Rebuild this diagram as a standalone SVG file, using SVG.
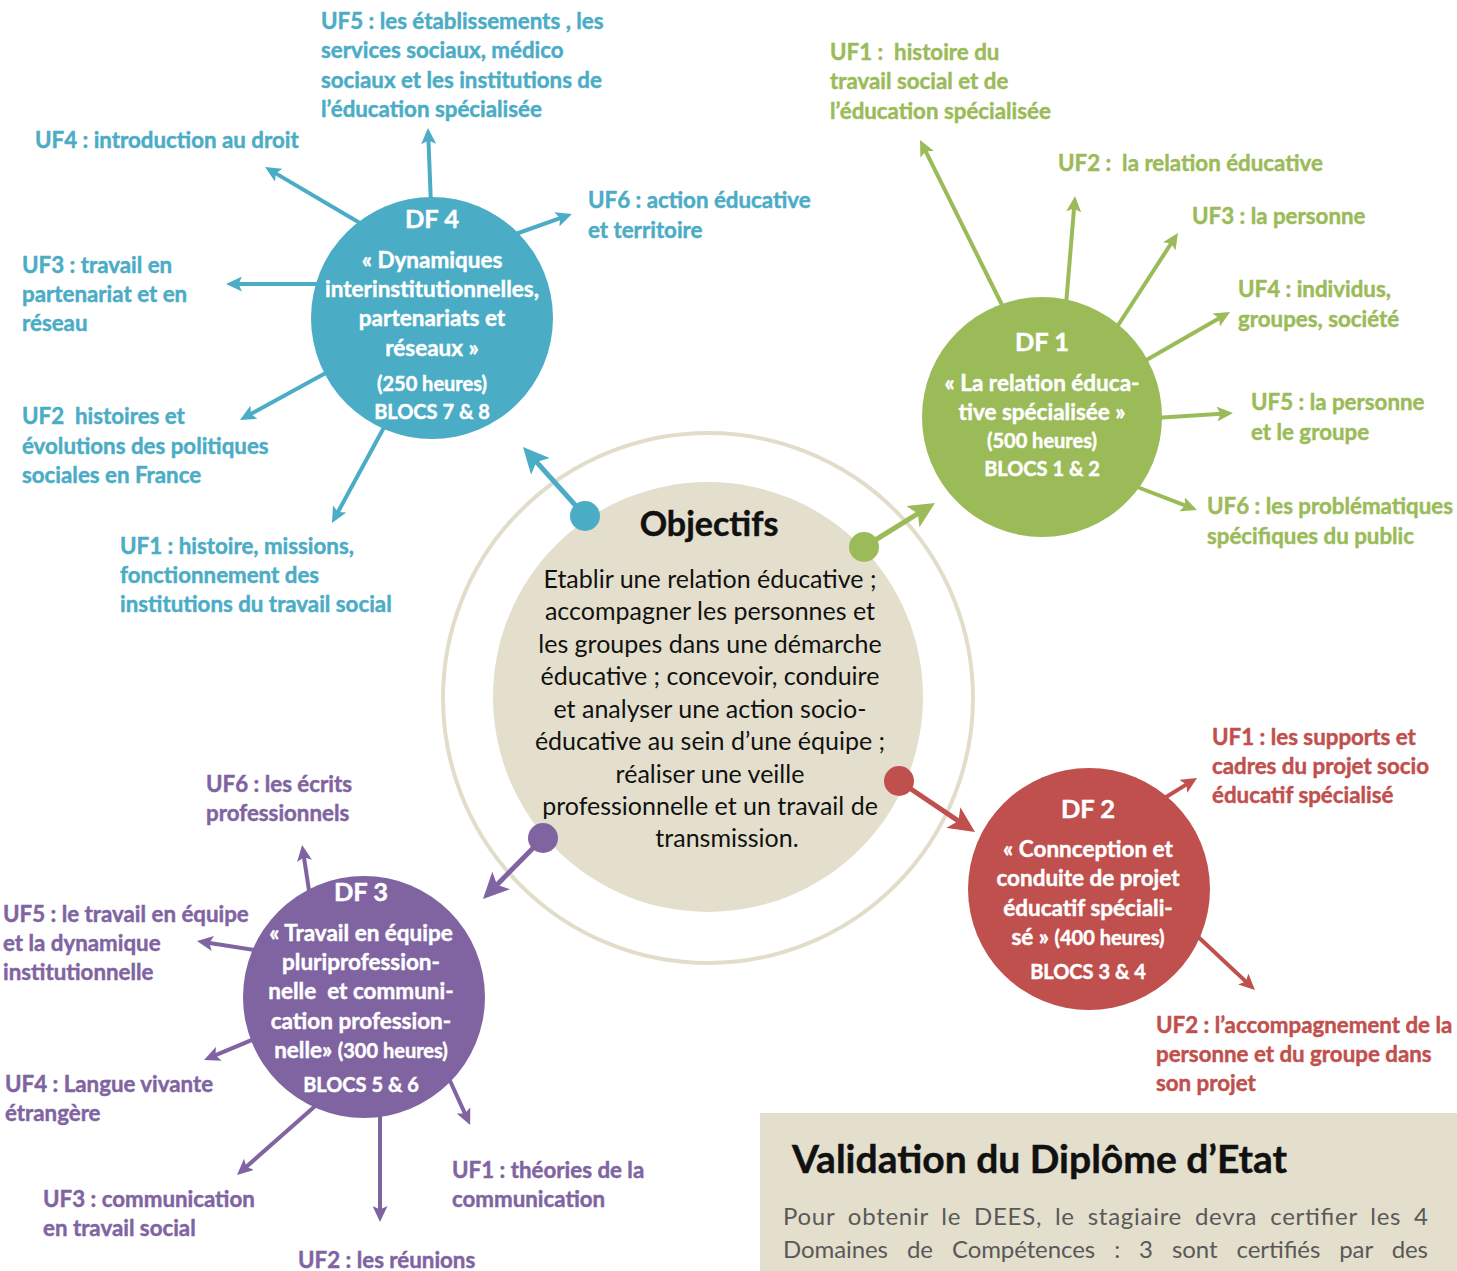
<svg xmlns="http://www.w3.org/2000/svg" width="1457" height="1271" viewBox="0 0 1457 1271">
<style>
text{font-family:Lato,"Open Sans","Liberation Sans",sans-serif;font-weight:700;white-space:pre;stroke-width:0.45px}
.b{fill:#4BACC6;stroke:#4BACC6}.g{fill:#9BBB59;stroke:#9BBB59}.r{fill:#C0504D;stroke:#C0504D}.p{fill:#8064A2;stroke:#8064A2}
.lbl{font-size:22.3px}
.w{fill:#fff;stroke:#fff;text-anchor:middle;font-size:22.5px}
.wt{font-size:25.5px}
.ws{font-size:20px}
.lb{stroke:#4BACC6}.lg{stroke:#9BBB59}.lr{stroke:#C0504D}.lp{stroke:#8064A2}
.rad line{stroke-width:4;fill:none}
.con line{stroke-width:5;fill:none}
.obj{font-size:25px;font-weight:400;fill:#111;text-anchor:middle;stroke:none}
.ttl{fill:#111;stroke:#111}
</style>
<defs>
<marker id="mb" markerUnits="userSpaceOnUse" markerWidth="16" markerHeight="15" refX="8" refY="7.5" orient="auto"><path d="M0,0 L16,7.5 L0,15 L3.5,7.5 z" fill="#4BACC6"/></marker>
<marker id="mg" markerUnits="userSpaceOnUse" markerWidth="16" markerHeight="15" refX="8" refY="7.5" orient="auto"><path d="M0,0 L16,7.5 L0,15 L3.5,7.5 z" fill="#9BBB59"/></marker>
<marker id="mr" markerUnits="userSpaceOnUse" markerWidth="16" markerHeight="15" refX="8" refY="7.5" orient="auto"><path d="M0,0 L16,7.5 L0,15 L3.5,7.5 z" fill="#C0504D"/></marker>
<marker id="mp" markerUnits="userSpaceOnUse" markerWidth="16" markerHeight="15" refX="8" refY="7.5" orient="auto"><path d="M0,0 L16,7.5 L0,15 L3.5,7.5 z" fill="#8064A2"/></marker>
<marker id="Mb" markerUnits="userSpaceOnUse" markerWidth="26" markerHeight="25" refX="13" refY="12.5" orient="auto"><path d="M0,0 L26,12.5 L0,25 L6,12.5 z" fill="#4BACC6"/></marker>
<marker id="Mg" markerUnits="userSpaceOnUse" markerWidth="26" markerHeight="25" refX="13" refY="12.5" orient="auto"><path d="M0,0 L26,12.5 L0,25 L6,12.5 z" fill="#9BBB59"/></marker>
<marker id="Mr" markerUnits="userSpaceOnUse" markerWidth="26" markerHeight="25" refX="13" refY="12.5" orient="auto"><path d="M0,0 L26,12.5 L0,25 L6,12.5 z" fill="#C0504D"/></marker>
<marker id="Mp" markerUnits="userSpaceOnUse" markerWidth="26" markerHeight="25" refX="13" refY="12.5" orient="auto"><path d="M0,0 L26,12.5 L0,25 L6,12.5 z" fill="#8064A2"/></marker>
</defs>
<rect width="1457" height="1271" fill="#fff"/>

<g id="objectifs">
<circle cx="708" cy="698" r="265" fill="none" stroke="#E2DDCA" stroke-width="4"/>
<circle cx="708" cy="697" r="215" fill="#E4DFCC"/>
<text class="ttl" x="709" y="536" text-anchor="middle" font-size="34">Objectifs</text>
<text class="obj"><tspan x="710" y="588">Etablir une relation éducative ;</tspan><tspan x="710" y="620">accompagner les personnes et</tspan><tspan x="710" y="653">les groupes dans une démarche</tspan><tspan x="710" y="685">éducative ; concevoir, conduire</tspan><tspan x="710" y="718">et analyser une action socio-</tspan><tspan x="710" y="750">éducative au sein d’une équipe ;</tspan><tspan x="710" y="783">réaliser une veille</tspan><tspan x="710" y="815">professionnelle et un travail de</tspan><tspan x="727" y="847">transmission.</tspan></text>
</g>

<g id="connectors">
<g class="rad">
<line class="lb" x1="431" y1="205" x2="428.3" y2="136" marker-end="url(#mb)"/>
<line class="lb" x1="365" y1="226" x2="271.9" y2="171.1" marker-end="url(#mb)"/>
<line class="lb" x1="510" y1="236" x2="564.4" y2="216.7" marker-end="url(#mb)"/>
<line class="lb" x1="325" y1="284" x2="234" y2="284" marker-end="url(#mb)"/>
<line class="lb" x1="333" y1="369" x2="247" y2="416.1" marker-end="url(#mb)"/>
<line class="lb" x1="388" y1="420" x2="335.8" y2="516" marker-end="url(#mb)"/>
<line class="lg" x1="1005" y1="311" x2="923.6" y2="147.2" marker-end="url(#mg)"/>
<line class="lg" x1="1066" y1="305" x2="1074.4" y2="204" marker-end="url(#mg)"/>
<line class="lg" x1="1115" y1="330" x2="1173.6" y2="239.7" marker-end="url(#mg)"/>
<line class="lg" x1="1143" y1="362" x2="1223.1" y2="316" marker-end="url(#mg)"/>
<line class="lg" x1="1155" y1="418" x2="1225" y2="413.5" marker-end="url(#mg)"/>
<line class="lg" x1="1132" y1="485" x2="1189.5" y2="507.1" marker-end="url(#mg)"/>
<line class="lr" x1="1158" y1="802" x2="1190.2" y2="782.1" marker-end="url(#mr)"/>
<line class="lr" x1="1193" y1="932" x2="1249.1" y2="984.6" marker-end="url(#mr)"/>
<line class="lp" x1="310" y1="897" x2="303.3" y2="852.9" marker-end="url(#mp)"/>
<line class="lp" x1="261" y1="951" x2="204.9" y2="942.3" marker-end="url(#mp)"/>
<line class="lp" x1="259" y1="1037" x2="211.4" y2="1056.9" marker-end="url(#mp)"/>
<line class="lp" x1="322" y1="1100" x2="243" y2="1169.7" marker-end="url(#mp)"/>
<line class="lp" x1="380" y1="1108" x2="380" y2="1214" marker-end="url(#mp)"/>
<line class="lp" x1="446" y1="1072" x2="466.8" y2="1117.7" marker-end="url(#mp)"/>
</g>
<g class="con">
<line class="lb" x1="585" y1="516" x2="531.7" y2="456.7" marker-end="url(#Mb)"/>
<line class="lg" x1="864" y1="547" x2="923.9" y2="509.9" marker-end="url(#Mg)"/>
<line class="lr" x1="899" y1="781" x2="964.2" y2="824.8" marker-end="url(#Mr)"/>
<line class="lp" x1="543" y1="838" x2="492.1" y2="889.7" marker-end="url(#Mp)"/>
</g>
<circle cx="585" cy="516" r="15" fill="#4BACC6"/>
<circle cx="864" cy="547" r="15" fill="#9BBB59"/>
<circle cx="899" cy="781" r="15" fill="#C0504D"/>
<circle cx="543" cy="838" r="15" fill="#8064A2"/>
</g>

<g id="df4">
<circle cx="432" cy="318" r="121" fill="#4BACC6"/>
<text class="w"><tspan class="wt" x="432" y="228">DF 4</tspan><tspan x="432" y="268">« Dynamiques</tspan><tspan x="432" y="297">interinstitutionnelles,</tspan><tspan x="432" y="326">partenariats et</tspan><tspan x="432" y="356">réseaux »</tspan><tspan class="ws" x="432" y="391">(250 heures)</tspan><tspan class="ws" x="432" y="419">BLOCS 7 &amp; 8</tspan></text>
</g>
<g id="df4-labels" class="lbl">
<text class="b"><tspan x="321" y="29">UF5 : les établissements , les</tspan><tspan x="321" y="58">services sociaux, médico</tspan><tspan x="321" y="88">sociaux et les institutions de</tspan><tspan x="321" y="117">l’éducation spécialisée</tspan></text>
<text class="b" x="35" y="148">UF4 : introduction au droit</text>
<text class="b"><tspan x="588" y="208">UF6 : action éducative</tspan><tspan x="588" y="238">et territoire</tspan></text>
<text class="b"><tspan x="22" y="273">UF3 : travail en</tspan><tspan x="22" y="302">partenariat et en</tspan><tspan x="22" y="331">réseau</tspan></text>
<text class="b"><tspan x="22" y="424">UF2  histoires et</tspan><tspan x="22" y="454">évolutions des politiques</tspan><tspan x="22" y="483">sociales en France</tspan></text>
<text class="b"><tspan x="120" y="554">UF1 : histoire, missions,</tspan><tspan x="120" y="583">fonctionnement des</tspan><tspan x="120" y="612">institutions du travail social</tspan></text>
</g>

<g id="df1">
<circle cx="1042" cy="417" r="120" fill="#9BBB59"/>
<text class="w"><tspan class="wt" x="1042" y="351">DF 1</tspan><tspan x="1042" y="391">« La relation éduca-</tspan><tspan x="1042" y="420">tive spécialisée »</tspan><tspan class="ws" x="1042" y="448">(500 heures)</tspan><tspan class="ws" x="1042" y="476">BLOCS 1 &amp; 2</tspan></text>
</g>
<g id="df1-labels" class="lbl">
<text class="g"><tspan x="830" y="60">UF1 :  histoire du</tspan><tspan x="830" y="89">travail social et de</tspan><tspan x="830" y="119">l’éducation spécialisée</tspan></text>
<text class="g" x="1058" y="171">UF2 :  la relation éducative</text>
<text class="g" x="1192" y="224">UF3 : la personne</text>
<text class="g"><tspan x="1238" y="297">UF4 : individus,</tspan><tspan x="1238" y="327">groupes, société</tspan></text>
<text class="g"><tspan x="1251" y="410">UF5 : la personne</tspan><tspan x="1251" y="440">et le groupe</tspan></text>
<text class="g"><tspan x="1207" y="514">UF6 : les problématiques</tspan><tspan x="1207" y="544">spécifiques du public</tspan></text>
</g>

<g id="df2">
<circle cx="1089" cy="889" r="121" fill="#C0504D"/>
<text class="w"><tspan class="wt" x="1088" y="818">DF 2</tspan><tspan x="1088" y="857">« Connception et</tspan><tspan x="1088" y="886">conduite de projet</tspan><tspan x="1088" y="916">éducatif spéciali-</tspan><tspan x="1088" y="945">sé » <tspan class="ws">(400 heures)</tspan></tspan><tspan class="ws" x="1088" y="979">BLOCS 3 &amp; 4</tspan></text>
</g>
<g id="df2-labels" class="lbl">
<text class="r"><tspan x="1212" y="745">UF1 : les supports et</tspan><tspan x="1212" y="774">cadres du projet socio</tspan><tspan x="1212" y="803">éducatif spécialisé</tspan></text>
<text class="r"><tspan x="1156" y="1033">UF2 : l’accompagnement de la</tspan><tspan x="1156" y="1062">personne et du groupe dans</tspan><tspan x="1156" y="1091">son projet</tspan></text>
</g>

<g id="df3">
<circle cx="364" cy="997" r="121" fill="#8064A2"/>
<text class="w"><tspan class="wt" x="361" y="901">DF 3</tspan><tspan x="361" y="941">« Travail en équipe</tspan><tspan x="361" y="970">pluriprofession-</tspan><tspan x="361" y="999">nelle  et communi-</tspan><tspan x="361" y="1029">cation profession-</tspan><tspan x="361" y="1058">nelle» <tspan class="ws">(300 heures)</tspan></tspan><tspan class="ws" x="361" y="1092">BLOCS 5 &amp; 6</tspan></text>
</g>
<g id="df3-labels" class="lbl">
<text class="p"><tspan x="206" y="792">UF6 : les écrits</tspan><tspan x="206" y="821">professionnels</tspan></text>
<text class="p"><tspan x="3" y="922">UF5 : le travail en équipe</tspan><tspan x="3" y="951">et la dynamique</tspan><tspan x="3" y="980">institutionnelle</tspan></text>
<text class="p"><tspan x="5" y="1092">UF4 : Langue vivante</tspan><tspan x="5" y="1121">étrangère</tspan></text>
<text class="p"><tspan x="43" y="1207">UF3 : communication</tspan><tspan x="43" y="1236">en travail social</tspan></text>
<text class="p" x="298" y="1268">UF2 : les réunions</text>
<text class="p"><tspan x="452" y="1178">UF1 : théories de la</tspan><tspan x="452" y="1207">communication</tspan></text>
</g>

<g id="validation">
<rect x="760" y="1113" width="697" height="158" fill="#E4DFCC"/>
<text class="ttl" x="792" y="1173" font-size="39">Validation du Diplôme d’Etat</text>
<text font-size="24" fill="#595959" style="font-weight:400;stroke:none"><tspan x="783" y="1225" word-spacing="6" textLength="645" lengthAdjust="spacing">Pour obtenir le DEES, le stagiaire devra certifier les 4</tspan><tspan x="783" y="1258" word-spacing="13" textLength="645" lengthAdjust="spacing">Domaines de Compétences : 3 sont certifiés par des</tspan></text>
</g>
</svg>
